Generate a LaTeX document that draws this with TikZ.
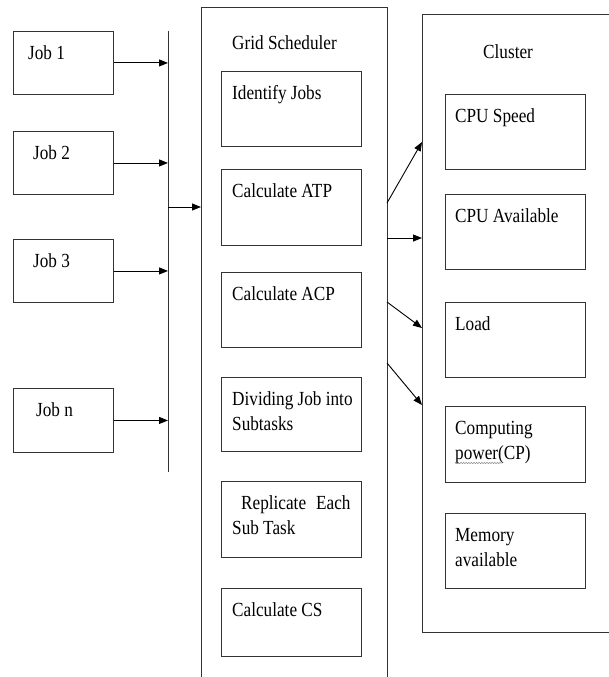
\documentclass[tikz,border=0pt]{standalone}
\usepackage{fontspec}
\setmainfont{Liberation Serif}[FakeStretch=0.86]
\usetikzlibrary{arrows.meta, positioning, decorations.pathmorphing}

\newcommand{\boxfont}{\fontsize{20}{25}\selectfont}

\begin{document}
\begin{tikzpicture}[x=1pt,y=-1pt,>={Triangle[length=9pt,width=7pt]},
        line/.style={draw=black!80, line width=0.9pt},
        box/.style={line, rectangle, anchor=north west, inner sep=0pt,
            minimum width=140pt, minimum height=75pt},
        jobbox/.style={box, minimum width=100pt, minimum height=63pt},
        txt/.style={anchor=north west, inner sep=0pt, align=left, font=\boxfont},
        arr/.style={line, draw=black, ->},
        squiggle/.style={draw=black!45, line width=0.5pt,
            decorate, decoration={snake, amplitude=0.7pt, segment length=2.6pt}}]
        \useasboundingbox (0,0) rectangle (609,677);

        % jobs
        \node[jobbox] (job1) at (13,31) {};
        \node[jobbox] (job2) at (13,131) {};
        \node[jobbox] (job3) at (13,239) {};
        \node[jobbox, minimum height=64pt] (jobn) at (13,388) {};
        \node[txt, below right=10.5pt and 15pt of job1.north west] {\strut Job 1};
        \node[txt, below right=10.5pt and 20pt of job2.north west] {\strut Job 2};
        \node[txt, below right=10.5pt and 20pt of job3.north west] {\strut Job 3};
        \node[txt, below right=10.5pt and 23pt of jobn.north west] {\strut Job n};

        % bus
        \coordinate (bus top) at (168,31);
        \coordinate (bus bot) at (168,472);
        \coordinate (bus mid) at (168,207);
        \draw[line] (bus top) -- (bus bot);
        \foreach \j in {job1,job2,job3,jobn}
            \draw[arr] (\j.east) -- (\j.east -| bus top);

        % grid scheduler
        \draw[line] (201,677) |- (387,7) -- (387,677);
        \node[txt, anchor=base west] at (232,50) {Grid Scheduler};
        \node[box] (idjobs) at (221,71) {};
        \node[box, minimum height=76pt] (calcatp) at (221,169) {};
        \node[box] (calcacp) at (221,272) {};
        \node[box, minimum height=74pt] (divide) at (221,377) {};
        \node[box, minimum height=76pt] (replicate) at (221,481) {};
        \node[box, minimum height=68pt] (calccs) at (221,588) {};
        \node[txt, below right=10.5pt and 11pt of idjobs.north west] {\strut Identify Jobs};
        \node[txt, below right=10.5pt and 11pt of calcatp.north west] {\strut Calculate ATP};
        \node[txt, below right=10.5pt and 11pt of calcacp.north west] {\strut Calculate ACP};
        \node[txt, below right=10.5pt and 11pt of divide.north west] {\strut Dividing Job into\\Subtasks};
        \node[txt, below right=10.5pt and 11pt of replicate.north west]
            {\strut\hspace*{9pt}Replicate\hspace{10pt}Each\\Sub Task};
        \node[txt, below right=10.5pt and 11pt of calccs.north west] {\strut Calculate CS};
        \coordinate (sched in) at (201,207);
        \draw[arr] (bus mid) -- (sched in);

        % cluster
        \draw[line] (609,14) -| (422,632) -- (609,632);
        \node[txt, anchor=base west] at (483,59) {Cluster};
        \node[box] (cpuspeed) at (445,94) {};
        \node[box] (cpuavail) at (445,194) {};
        \node[box] (load) at (445,302) {};
        \node[box, minimum height=76pt] (cpower) at (445,406) {};
        \node[box] (memory) at (445,513) {};
        \node[txt, below right=10.5pt and 10pt of cpuspeed.north west] {\strut CPU Speed};
        \node[txt, below right=10.5pt and 10pt of cpuavail.north west] {\strut CPU Available};
        \node[txt, below right=10.5pt and 10pt of load.north west] {\strut Load};
        \node[txt, below right=10.5pt and 10pt of cpower.north west] (cptxt) {\strut Computing\\power(CP)};
        \node[txt, below right=10.5pt and 10pt of memory.north west] {\strut Memory\\available};
        \draw[squiggle] ([shift={(0,57)}]cpower.north west) ++(10,0) -- ++(47,0);

        % scheduler to cluster
        \foreach \ys/\yc [count=\i] in {203/142, 238/238, 302/328, 363/405} {
            \coordinate (out\i) at (387,\ys);
            \coordinate (in\i) at (422,\yc);
            \draw[arr] (out\i) -- (in\i);
        }
    \end{tikzpicture}
\end{document}
